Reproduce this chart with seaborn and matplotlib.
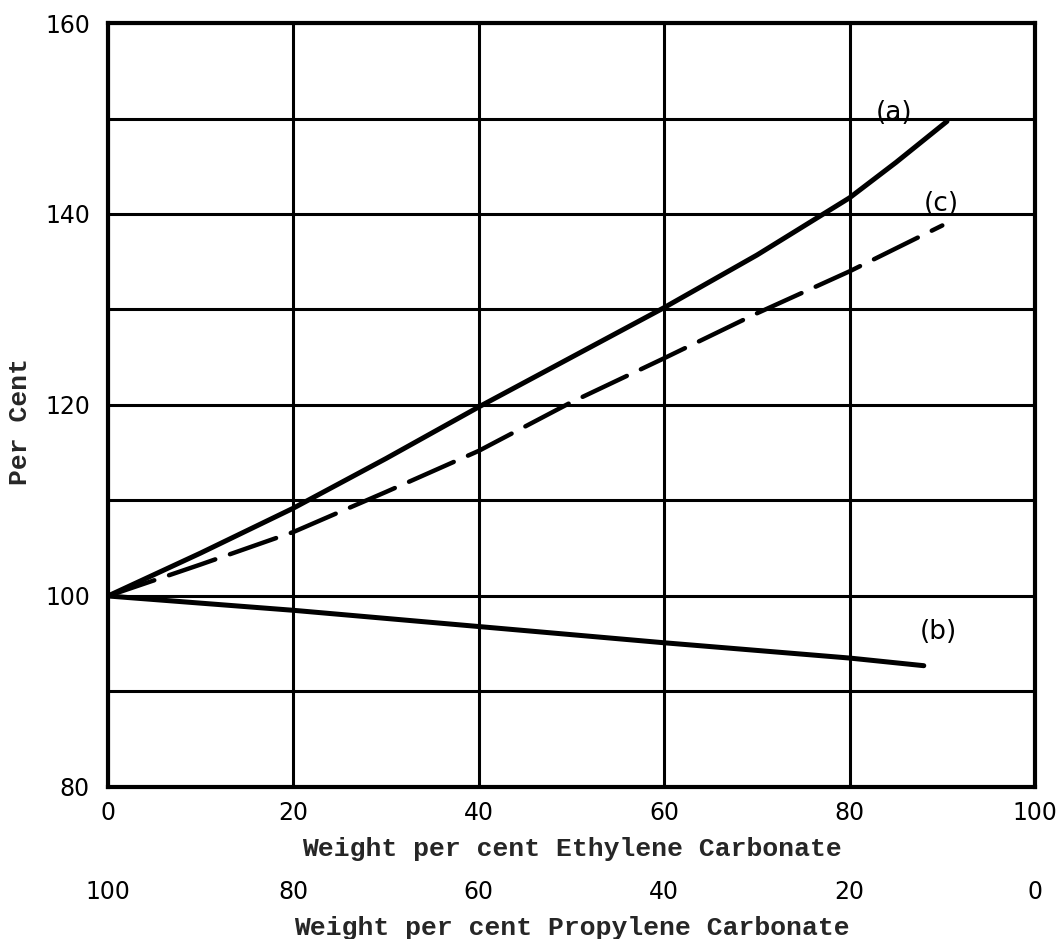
import matplotlib
matplotlib.use("Agg")
import matplotlib.pyplot as plt
import numpy as np
import pandas as pd
import seaborn as sns

# Composition (weight % ethylene carbonate) and property values, per cent of pure PC
ec_a = [0, 10, 20, 30, 40, 50, 60, 70, 80, 85, 90.5]
pct_a = [100, 104.5, 109.2, 114.4, 119.8, 125.0, 130.2, 135.7, 141.7, 145.4, 149.7]

ec_b = [0, 20, 40, 60, 80, 88]
pct_b = [100, 98.5, 96.8, 95.1, 93.5, 92.7]

ec_c = [0, 10, 20, 30, 40, 50, 60, 70, 80, 90]
pct_c = [100, 103.3, 106.7, 110.9, 115.2, 120.3, 124.9, 129.6, 134.0, 138.8]

curve_labels = ["(a)", "(b)", "(c)"]
label_x = [84.8, 89.6, 89.9]
label_y = [150.6, 96.2, 141.0]

x_ticks = [0, 20, 40, 60, 80, 100]
y_ticks = [80, 90, 100, 110, 120, 130, 140, 150, 160]
y_ticklabels = ["80", "", "100", "", "120", "", "140", "", "160"]

sns.set_style("white")
plt.rcParams["font.family"] = ["DejaVu Sans"]

mono = dict(family="Liberation Mono", weight="bold", size=19)
tickfont = 17

df = pd.concat([
    pd.DataFrame({"ec": ec_a, "pct": pct_a, "curve": "a"}),
    pd.DataFrame({"ec": ec_b, "pct": pct_b, "curve": "b"}),
    pd.DataFrame({"ec": ec_c, "pct": pct_c, "curve": "c"}),
])

fig = plt.figure(figsize=(10.62, 9.39), dpi=100)
ax = fig.add_axes([0.1017, 0.1619, 0.8729, 0.8136])

sns.lineplot(data=df[df.curve == "a"], x="ec", y="pct", color="black",
             lw=3.6, ax=ax, sort=False, estimator=None, solid_capstyle="round")
sns.lineplot(data=df[df.curve == "b"], x="ec", y="pct", color="black",
             lw=3.6, ax=ax, sort=False, estimator=None, solid_capstyle="round")
sns.lineplot(data=df[df.curve == "c"], x="ec", y="pct", color="black",
             lw=3.2, ax=ax, sort=False, estimator=None, dashes=False)
ax.lines[-1].set_dashes((11, 3.5))
ax.lines[-1].set_dash_capstyle("round")

for t, lx, ly in zip(curve_labels, label_x, label_y):
    ax.text(lx, ly, t, ha="center", va="center",
            fontsize=19, family="DejaVu Sans", color="black")

ax.set_xlim(0, 100)
ax.set_ylim(80, 160)
ax.set_xticks(x_ticks)
ax.set_yticks(y_ticks)
ax.set_yticklabels(y_ticklabels)
ax.grid(True, color="black", lw=2.2)
ax.set_axisbelow(True)
for s in ax.spines.values():
    s.set_color("black")
    s.set_linewidth(3)

ax.tick_params(axis="both", length=0, labelsize=tickfont, colors="black")
ax.tick_params(axis="x", pad=10)
ax.tick_params(axis="y", pad=13)

ax.set_xlabel("Weight per cent Ethylene Carbonate", fontdict=mono, labelpad=9)
ax.set_ylabel("Per Cent", fontdict=mono)
ax.yaxis.set_label_coords(-0.082, 0.479)

# Complementary propylene carbonate scale
sec = ax.secondary_xaxis(-0.1034, functions=(lambda x: 100 - x, lambda x: 100 - x))
sec.set_xticks([100, 80, 60, 40, 20, 0])
sec.spines["bottom"].set_visible(False)
sec.tick_params(length=0, labelsize=tickfont, pad=10, colors="black")
sec.set_xlabel("Weight per cent Propylene Carbonate", fontdict=mono, labelpad=9)

fig.savefig("out.png", dpi=100)
